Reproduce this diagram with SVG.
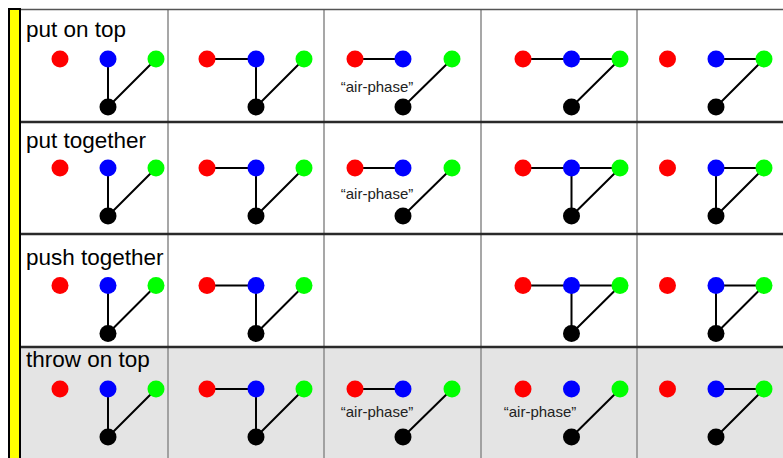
<svg xmlns="http://www.w3.org/2000/svg" width="783" height="458" viewBox="0 0 783 458">
<style>
.title{font-family:"Liberation Sans",Arial,sans-serif;font-size:22.5px;fill:#000}
.lbl{font-family:"Liberation Sans",Arial,sans-serif;font-size:15px;fill:#222;text-anchor:middle}
.vl{stroke:#8a8a8a;stroke-width:1.5;fill:none}
.hl{stroke:#2a2a2a;stroke-width:2.5;fill:none}
.e{stroke:#000;stroke-width:2;fill:none}
.r{fill:#ff0000}.b{fill:#0000ff}.g{fill:#00ff00}.k{fill:#000}
</style>
<defs>
<circle id="dot" r="8.5"/>
</defs>
<rect x="0" y="0" width="783" height="458" fill="#fff"/>
<rect x="20" y="347" width="763" height="111" fill="#e4e4e4"/>
<g id="grid">
<path class="vl" d="M168 9V458M324 9V458M481 9V458M637 9V458"/>
<path class="vl" d="M20 9.5H783" style="stroke:#555"/>
<path class="hl" d="M20 122H783M20 234H783M20 347H783"/>
</g>
<rect id="bar" x="9" y="9" width="11" height="452" fill="#ffff00" stroke="#000" stroke-width="2"/>
<g id="titles">
<text class="title" x="26" y="37">put on top</text>
<text class="title" x="26" y="148">put together</text>
<text class="title" x="26" y="265">push together</text>
<text class="title" x="26" y="367">throw on top</text>
</g>
<g id="labels">
<text class="lbl" x="377" y="92">“air-phase”</text>
<text class="lbl" x="377" y="199">“air-phase”</text>
<text class="lbl" x="377" y="417">“air-phase”</text>
<text class="lbl" x="540" y="417">“air-phase”</text>
</g>
<g id="connectors" class="e">
<path d="M108 59V107M156 59L108 107"/>
<path d="M207 59H256M256 59V107M304 59L256 107"/>
<path d="M355 59H403M452 59L403 107"/>
<path d="M523 59H620M620 59L571.5 107"/>
<path d="M716 59H764M764 59L716 107"/>
<path d="M108 168V216M156 168L108 216"/>
<path d="M207 168H256M256 168V216M304 168L256 216"/>
<path d="M355 168H403M452 168L403 216"/>
<path d="M523 168H620M571.5 168V216M620 168L571.5 216"/>
<path d="M716 168H764M716 168V216M764 168L716 216"/>
<path d="M108 285.5V333.5M156 285.5L108 333.5"/>
<path d="M207 285.5H256M256 285.5V333.5M304 285.5L256 333.5"/>
<path d="M523 285.5H620M571.5 285.5V333.5M620 285.5L571.5 333.5"/>
<path d="M716 285.5H764M716 285.5V333.5M764 285.5L716 333.5"/>
<path d="M108 389V437M156 389L108 437"/>
<path d="M207 389H256M256 389V437M304 389L256 437"/>
<path d="M355 389H403M452 389L403 437"/>
<path d="M620 389L571.5 437"/>
<path d="M716 389H764M764 389L716 437"/>
</g>
<g id="r1c1-red"><use href="#dot" class="r" x="60" y="59"/></g>
<g id="r1c1-blue"><use href="#dot" class="b" x="108" y="59"/></g>
<g id="r1c1-green"><use href="#dot" class="g" x="156" y="59"/></g>
<g id="r1c1-black"><use href="#dot" class="k" x="108" y="107"/></g>
<g id="r1c2-red"><use href="#dot" class="r" x="207" y="59"/></g>
<g id="r1c2-blue"><use href="#dot" class="b" x="256" y="59"/></g>
<g id="r1c2-green"><use href="#dot" class="g" x="304" y="59"/></g>
<g id="r1c2-black"><use href="#dot" class="k" x="256" y="107"/></g>
<g id="r1c3-red"><use href="#dot" class="r" x="355" y="59"/></g>
<g id="r1c3-blue"><use href="#dot" class="b" x="403" y="59"/></g>
<g id="r1c3-green"><use href="#dot" class="g" x="452" y="59"/></g>
<g id="r1c3-black"><use href="#dot" class="k" x="403" y="107"/></g>
<g id="r1c4-red"><use href="#dot" class="r" x="523" y="59"/></g>
<g id="r1c4-blue"><use href="#dot" class="b" x="571.5" y="59"/></g>
<g id="r1c4-green"><use href="#dot" class="g" x="620" y="59"/></g>
<g id="r1c4-black"><use href="#dot" class="k" x="571.5" y="107"/></g>
<g id="r1c5-red"><use href="#dot" class="r" x="667.5" y="59"/></g>
<g id="r1c5-blue"><use href="#dot" class="b" x="716" y="59"/></g>
<g id="r1c5-green"><use href="#dot" class="g" x="764" y="59"/></g>
<g id="r1c5-black"><use href="#dot" class="k" x="716" y="107"/></g>
<g id="r2c1-red"><use href="#dot" class="r" x="60" y="168"/></g>
<g id="r2c1-blue"><use href="#dot" class="b" x="108" y="168"/></g>
<g id="r2c1-green"><use href="#dot" class="g" x="156" y="168"/></g>
<g id="r2c1-black"><use href="#dot" class="k" x="108" y="216"/></g>
<g id="r2c2-red"><use href="#dot" class="r" x="207" y="168"/></g>
<g id="r2c2-blue"><use href="#dot" class="b" x="256" y="168"/></g>
<g id="r2c2-green"><use href="#dot" class="g" x="304" y="168"/></g>
<g id="r2c2-black"><use href="#dot" class="k" x="256" y="216"/></g>
<g id="r2c3-red"><use href="#dot" class="r" x="355" y="168"/></g>
<g id="r2c3-blue"><use href="#dot" class="b" x="403" y="168"/></g>
<g id="r2c3-green"><use href="#dot" class="g" x="452" y="168"/></g>
<g id="r2c3-black"><use href="#dot" class="k" x="403" y="216"/></g>
<g id="r2c4-red"><use href="#dot" class="r" x="523" y="168"/></g>
<g id="r2c4-blue"><use href="#dot" class="b" x="571.5" y="168"/></g>
<g id="r2c4-green"><use href="#dot" class="g" x="620" y="168"/></g>
<g id="r2c4-black"><use href="#dot" class="k" x="571.5" y="216"/></g>
<g id="r2c5-red"><use href="#dot" class="r" x="667.5" y="168"/></g>
<g id="r2c5-blue"><use href="#dot" class="b" x="716" y="168"/></g>
<g id="r2c5-green"><use href="#dot" class="g" x="764" y="168"/></g>
<g id="r2c5-black"><use href="#dot" class="k" x="716" y="216"/></g>
<g id="r3c1-red"><use href="#dot" class="r" x="60" y="285.5"/></g>
<g id="r3c1-blue"><use href="#dot" class="b" x="108" y="285.5"/></g>
<g id="r3c1-green"><use href="#dot" class="g" x="156" y="285.5"/></g>
<g id="r3c1-black"><use href="#dot" class="k" x="108" y="333.5"/></g>
<g id="r3c2-red"><use href="#dot" class="r" x="207" y="285.5"/></g>
<g id="r3c2-blue"><use href="#dot" class="b" x="256" y="285.5"/></g>
<g id="r3c2-green"><use href="#dot" class="g" x="304" y="285.5"/></g>
<g id="r3c2-black"><use href="#dot" class="k" x="256" y="333.5"/></g>
<g id="r3c4-red"><use href="#dot" class="r" x="523" y="285.5"/></g>
<g id="r3c4-blue"><use href="#dot" class="b" x="571.5" y="285.5"/></g>
<g id="r3c4-green"><use href="#dot" class="g" x="620" y="285.5"/></g>
<g id="r3c4-black"><use href="#dot" class="k" x="571.5" y="333.5"/></g>
<g id="r3c5-red"><use href="#dot" class="r" x="667.5" y="285.5"/></g>
<g id="r3c5-blue"><use href="#dot" class="b" x="716" y="285.5"/></g>
<g id="r3c5-green"><use href="#dot" class="g" x="764" y="285.5"/></g>
<g id="r3c5-black"><use href="#dot" class="k" x="716" y="333.5"/></g>
<g id="r4c1-red"><use href="#dot" class="r" x="60" y="389"/></g>
<g id="r4c1-blue"><use href="#dot" class="b" x="108" y="389"/></g>
<g id="r4c1-green"><use href="#dot" class="g" x="156" y="389"/></g>
<g id="r4c1-black"><use href="#dot" class="k" x="108" y="437"/></g>
<g id="r4c2-red"><use href="#dot" class="r" x="207" y="389"/></g>
<g id="r4c2-blue"><use href="#dot" class="b" x="256" y="389"/></g>
<g id="r4c2-green"><use href="#dot" class="g" x="304" y="389"/></g>
<g id="r4c2-black"><use href="#dot" class="k" x="256" y="437"/></g>
<g id="r4c3-red"><use href="#dot" class="r" x="355" y="389"/></g>
<g id="r4c3-blue"><use href="#dot" class="b" x="403" y="389"/></g>
<g id="r4c3-green"><use href="#dot" class="g" x="452" y="389"/></g>
<g id="r4c3-black"><use href="#dot" class="k" x="403" y="437"/></g>
<g id="r4c4-red"><use href="#dot" class="r" x="523" y="389"/></g>
<g id="r4c4-blue"><use href="#dot" class="b" x="571.5" y="389"/></g>
<g id="r4c4-green"><use href="#dot" class="g" x="620" y="389"/></g>
<g id="r4c4-black"><use href="#dot" class="k" x="571.5" y="437"/></g>
<g id="r4c5-red"><use href="#dot" class="r" x="667.5" y="389"/></g>
<g id="r4c5-blue"><use href="#dot" class="b" x="716" y="389"/></g>
<g id="r4c5-green"><use href="#dot" class="g" x="764" y="389"/></g>
<g id="r4c5-black"><use href="#dot" class="k" x="716" y="437"/></g>
</svg>
